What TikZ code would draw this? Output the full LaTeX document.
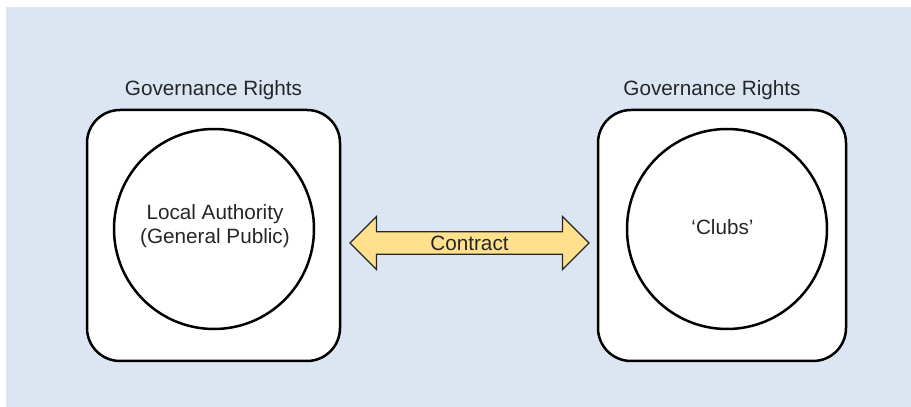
\documentclass[tikz,border=0pt]{standalone}
\usepackage{fontspec}
\setmainfont{Liberation Sans}
\usepackage{tikz}
\definecolor{white}{rgb}{1.0, 1.0, 1.0}
\definecolor{black}{rgb}{0.0, 0.0, 0.0}
\definecolor{lblue}{RGB}{220,230,242}
\definecolor{lgold}{RGB}{255,224,140}
\definecolor{dgray}{RGB}{38,38,38}
\usetikzlibrary{shapes.arrows}
\pgfdeclarelayer{edgelayer}
\pgfdeclarelayer{nodelayer}
\pgfsetlayers{edgelayer,nodelayer,main}
\tikzstyle{rights}=[rectangle,rounded corners=33pt,fill=white,draw=black,line width=2.5pt,minimum height=251pt]
\tikzstyle{party}=[circle,draw=black,line width=2.5pt,minimum size=200pt,inner sep=0pt]
\tikzstyle{label}=[text=dgray,font=\fontsize{20.7}{24}\selectfont,align=center,inner sep=0pt]
\tikzstyle{deal}=[double arrow,double arrow head extend=13.5pt,minimum width=53pt,minimum height=239pt,fill=lgold,draw=dgray,line width=1.2pt,inner sep=2pt,text=dgray,font=\fontsize{20.7}{24}\selectfont]

\begin{document}
\begin{tikzpicture}[x=1pt,y=1pt]
            \useasboundingbox (0,0) rectangle (911,407);
            \begin{pgfonlayer}{edgelayer}
            \fill [white] (0,0) rectangle (911,407);
            \fill [lblue] (6,0) rectangle (911,400);
            \end{pgfonlayer}

            \begin{pgfonlayer}{nodelayer}
            \node [style = rights, minimum width=253pt] (leftbox) at (213.5, 171.5) {};
            \node [style = rights, minimum width=248pt] (rightbox) at (722, 171.5) {};

            \node [style = party] (authority) at (214, 178) {};
            \node [style = party] (clubs) at (727, 178) {};

            \node [style = label] (lefttitle) at (213.5, 317) {Governance Rights};
            \node [style = label] (righttitle) at (712, 317) {Governance Rights};

            \node [style = label] (authoritytext) at (215, 180.5) {Local Authority\\(General Public)};
            \node [style = label] (clubstext) at (722.5, 180) {‘Clubs’};

            \node [style = deal] (contract) at (469.5, 164) {Contract};
            \end{pgfonlayer}
    \end{tikzpicture}
\end{document}
